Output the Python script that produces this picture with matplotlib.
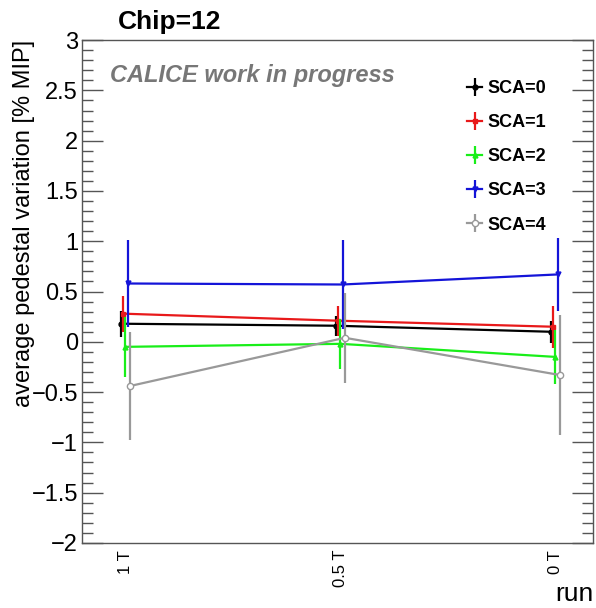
import matplotlib
matplotlib.use("Agg")
import matplotlib.pyplot as plt
from matplotlib.ticker import MultipleLocator
import numpy as np

plt.rcParams['font.family'] = ['Liberation Sans', 'DejaVu Sans']

runs = ["1 T", "0.5 T", "0 T"]
series = ["SCA=0", "SCA=1", "SCA=2", "SCA=3", "SCA=4"]
colors = ["#000000", "#e8191a", "#19ee19", "#1414d8", "#999999"]
markers = ["o", "s", "^", "v", "o"]

sca0 = [0.18, 0.16, 0.10]
sca0_err = [0.13, 0.10, 0.11]
sca1 = [0.28, 0.21, 0.15]
sca1_err = [0.18, 0.15, 0.21]
sca2 = [-0.05, -0.02, -0.15]
sca2_err = [0.30, 0.25, 0.27]
sca3 = [0.58, 0.57, 0.67]
sca3_err = [0.43, 0.44, 0.36]
sca4 = [-0.44, 0.04, -0.33]
sca4_err = [0.54, 0.45, 0.60]

values = [sca0, sca1, sca2, sca3, sca4]
errors = [sca0_err, sca1_err, sca2_err, sca3_err, sca4_err]

fig = plt.figure(figsize=(5.96, 6.08), dpi=100)
ax = fig.add_axes([0.138, 0.107, 0.857, 0.827])

x = np.arange(len(runs))
offsets = np.array([-2, -1, 0, 1, 2]) * 0.0105
for i, (name, col, mk) in enumerate(zip(series, colors, markers)):
    xi = x + offsets[i]
    if i == 4:
        ax.errorbar(xi, values[i], yerr=errors[i], color=col, lw=1.6,
                    marker='o', ms=4.5, mfc='white', mec=col, mew=1.0,
                    capsize=0, label=name, zorder=3 + i)
    else:
        ax.errorbar(xi, values[i], yerr=errors[i], color=col, lw=1.6,
                    marker=mk, ms=3.5, mfc=col, mec=col,
                    capsize=0, label=name, zorder=3 + i)

ax.set_xlim(-0.2, 2.175)
ax.set_ylim(-2, 3)
ax.set_xticks(x)
ax.set_xticklabels(runs, rotation=90)
ax.tick_params(axis='x', length=0, pad=5, labelsize=12)

ax.yaxis.set_major_locator(MultipleLocator(0.5))
ax.yaxis.set_minor_locator(MultipleLocator(0.1))
ax.tick_params(axis='y', which='major', direction='in', length=15, width=1.0,
               labelsize=17, right=True, color='#555555', pad=3)
ax.tick_params(axis='y', which='minor', direction='in', length=8, width=1.0,
               right=True, color='#555555')
ax.yaxis.set_major_formatter(matplotlib.ticker.FuncFormatter(
    lambda v, p: ('\u2212' if v < 0 else '') + ('%g' % abs(v))))

for s in ax.spines.values():
    s.set_color('#555555')
    s.set_linewidth(1.0)

ax.set_ylabel("average pedestal variation [% MIP]", fontsize=17, ha='right')
ax.yaxis.set_label_coords(-0.093, 1.0)

fig.text(0.285, 0.963, "Chip=12", fontsize=19, fontweight='bold',
         ha='center', va='center')
ax.text(0.055, 0.93, "CALICE work in progress", transform=ax.transAxes,
        fontsize=17, fontweight='bold', style='italic', color='#777777',
        ha='left', va='center')
fig.text(0.995, 0.004, "run", fontsize=19, ha='right', va='bottom')

leg = ax.legend(loc='upper left', bbox_to_anchor=(0.74, 0.935), frameon=False,
                fontsize=13, handlelength=0.8, handletextpad=0.3,
                labelspacing=0.95, borderaxespad=0)
for t in leg.get_texts():
    t.set_fontweight('bold')

fig.savefig("out.png", dpi=100)
